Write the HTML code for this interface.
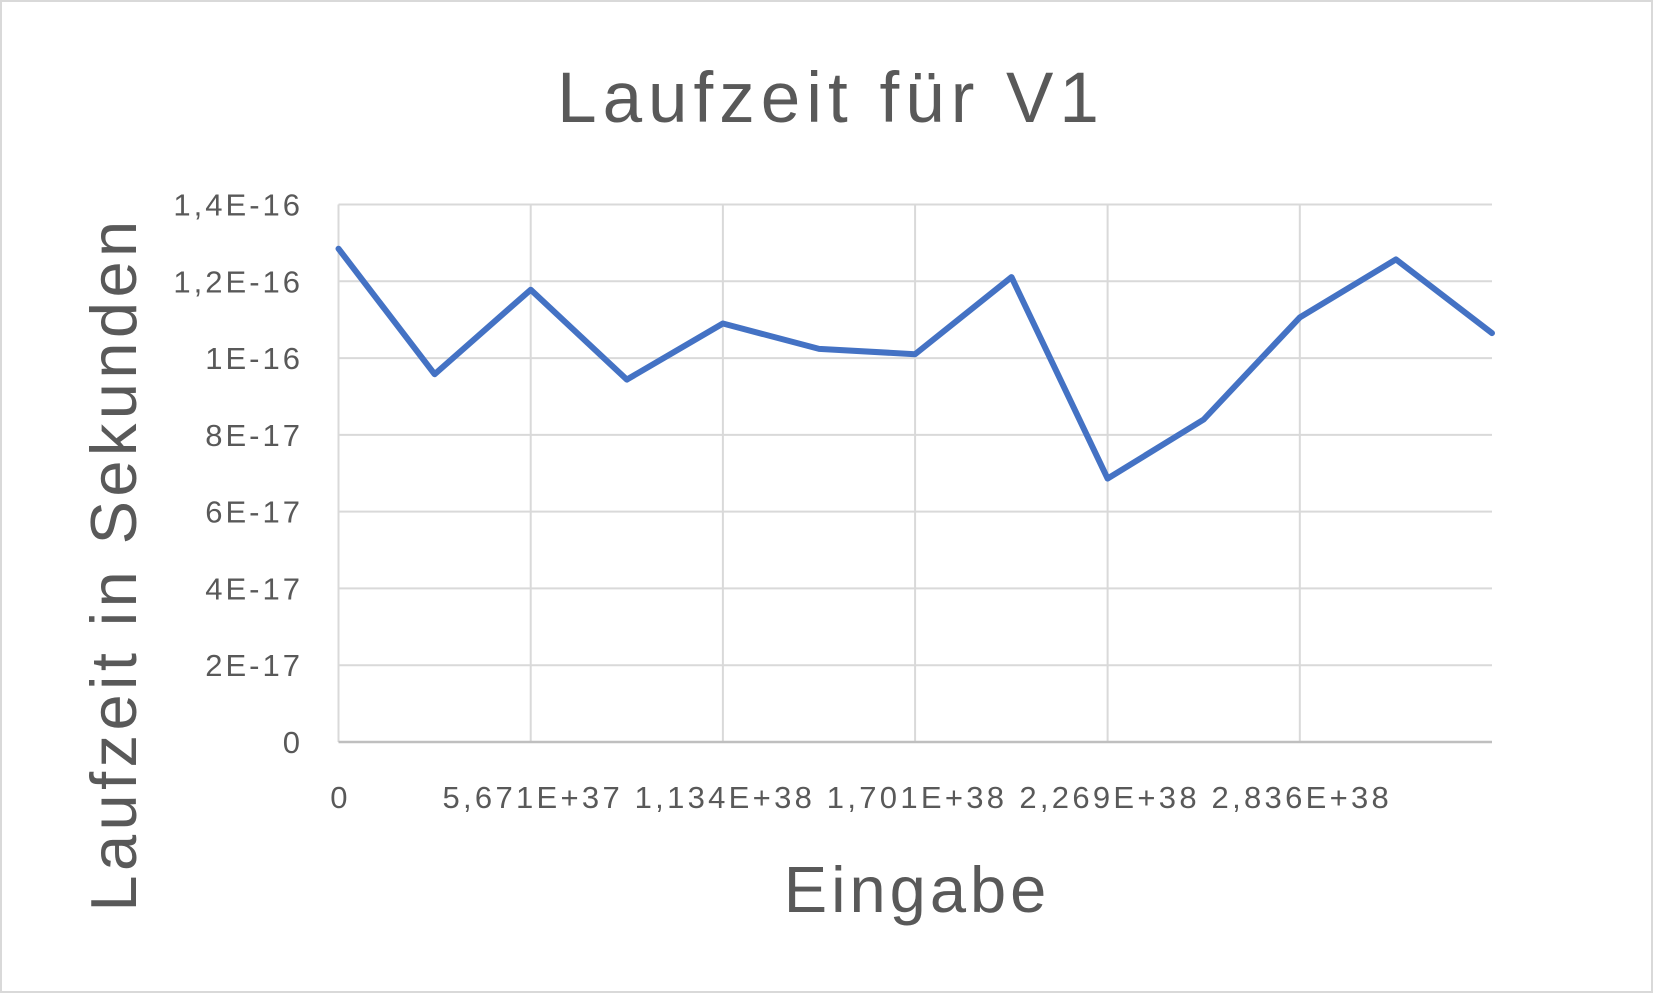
<!DOCTYPE html>
<html><head><meta charset="utf-8"><style>
body{margin:0;background:#fff}
svg{display:block;font-family:"Liberation Sans","DejaVu Sans",sans-serif}
</style></head><body>
<svg id="chart" width="1653" height="993" viewBox="0 0 1653 993" xmlns="http://www.w3.org/2000/svg">
<rect x="1" y="1" width="1651" height="991" fill="#fff" stroke="#d9d9d9" stroke-width="2"/>
<text x="831" y="122" font-size="71" letter-spacing="6" fill="#595959" text-anchor="middle">Laufzeit für V1</text>
<text x="917" y="912" font-size="65" letter-spacing="4" fill="#595959" text-anchor="middle">Eingabe</text>
<text transform="translate(136,564) rotate(-90)" font-size="65" letter-spacing="4.4" fill="#595959" text-anchor="middle">Laufzeit in Sekunden</text>
<g id="grid"></g><g id="axes"></g><g id="series"></g>
</svg>
<script>
const yTicks=[0,2e-17,4e-17,6e-17,8e-17,1e-16,1.2e-16,1.4e-16];
const yTickLabels=["0","2E-17","4E-17","6E-17","8E-17","1E-16","1,2E-16","1,4E-16"];
const xTicks=[0,5.671e37,1.134e38,1.701e38,2.269e38,2.836e38,3.403e38];
const xTickLabels=["0","5,671E+37","1,134E+38","1,701E+38","2,269E+38","2,836E+38",""];
const xValues=[0,2.8355e37,5.671e37,8.5065e37,1.134e38,1.41775e38,1.701e38,1.98545e38,2.269e38,2.55245e38,2.836e38,3.11935e38,3.403e38];
const yValues=[1.285e-16,0.958e-16,1.178e-16,0.944e-16,1.090e-16,1.024e-16,1.010e-16,1.211e-16,0.686e-16,0.840e-16,1.106e-16,1.257e-16,1.065e-16];
const L=338.5,R=1492,T=204.5,B=742;
const xMax=3.403e38,yMax=1.4e-16;
const xs=v=>L+(R-L)*v/xMax, ys=v=>B-(B-T)*v/yMax;
const NS="http://www.w3.org/2000/svg";
function mk(t,a,p){const e=document.createElementNS(NS,t);for(const k in a)e.setAttribute(k,a[k]);p.appendChild(e);return e;}
const grid=document.getElementById('grid'),axes=document.getElementById('axes'),ser=document.getElementById('series');
yTicks.forEach((v,i)=>{
 if(i>0){const g=mk('line',{x1:L,x2:R,y1:ys(v),y2:ys(v),stroke:'#d9d9d9','stroke-width':2},grid);
 
 }
 const t=mk('text',{x:303,y:ys(v)+11,'font-size':31,'letter-spacing':3,fill:'#595959','text-anchor':'end'},axes);
 t.textContent=yTickLabels[i];
 
 
});
xTicks.forEach((v,i)=>{
 if(i>0&&i<xTicks.length-1){const g=mk('line',{x1:xs(v),x2:xs(v),y1:T,y2:B,stroke:'#d9d9d9','stroke-width':2},grid);
 
 }
 const t=mk('text',{x:xs(v)+2,y:808,'font-size':31,'letter-spacing':3.3,fill:'#595959','text-anchor':'middle'},axes);
 t.textContent=xTickLabels[i];
 
 
});
const lg=mk('line',{x1:L,x2:L,y1:T,y2:B,stroke:'#d9d9d9','stroke-width':2},grid);


const xa=mk('line',{x1:L,x2:R,y1:B,y2:B,stroke:'#bfbfbf','stroke-width':2.5},axes);


const pts=xValues.map((x,i)=>xs(x).toFixed(1)+','+ys(yValues[i]).toFixed(1)).join(' ');
const pl=mk('polyline',{points:pts,fill:'none',stroke:'#4472C4','stroke-width':6,'stroke-linejoin':'round','stroke-linecap':'round'},ser);


</script>
</body></html>
